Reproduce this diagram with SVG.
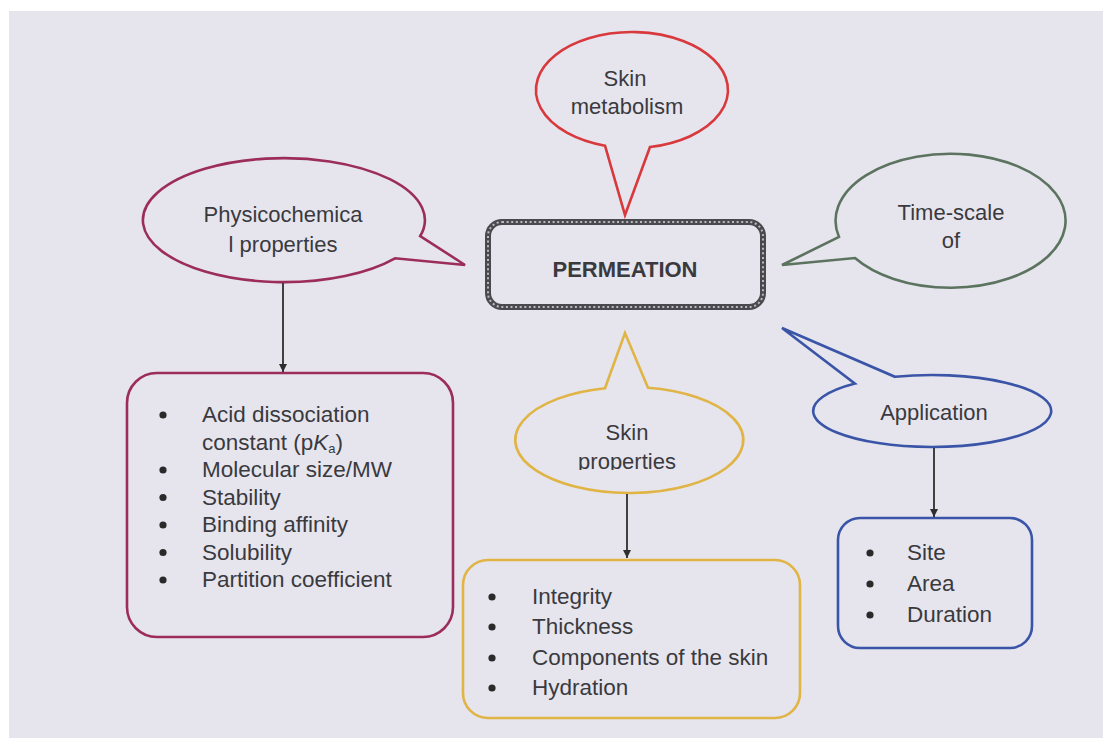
<svg xmlns="http://www.w3.org/2000/svg" width="1103" height="738" viewBox="0 0 1103 738">
<defs>
<marker id="ah" viewBox="0 0 10 10" refX="10" refY="5" markerWidth="8" markerHeight="8" markerUnits="userSpaceOnUse" orient="auto">
<path d="M0,0 L10,5 L0,10 Z" fill="#2e2e2e"/>
</marker>
<clipPath id="clipProp"><rect x="540" y="440" width="180" height="30"/></clipPath>
</defs>
<style>
text{font-family:"Liberation Sans",Arial,sans-serif;fill:#3a3a3e}
.bub{font-size:22px;text-anchor:middle}
.li{font-size:22.5px}
.bubble{fill:none;stroke-width:2.6;stroke-linejoin:miter}
.box{fill:none;stroke-width:2.6}
.dot{fill:#2a2a2a}
.conn{stroke:#2e2e2e;stroke-width:1.8;fill:none;marker-end:url(#ah)}
</style>
<rect x="0" y="0" width="1103" height="738" fill="#ffffff"/>
<rect x="9" y="11" width="1094" height="727" fill="#e6e5ee"/>

<g id="permeation">
<rect x="488" y="222" width="275" height="85" rx="14" fill="none" stroke="#4a4a4e" stroke-width="6"/>
<rect x="488" y="222" width="275" height="85" rx="14" fill="none" stroke="#b9b9c2" stroke-width="2" stroke-dasharray="2 2.6"/>
<text x="625" y="277" text-anchor="middle" font-size="22" font-weight="bold" fill="#333">PERMEATION</text>
</g>

<g id="skin-metabolism">
<path class="bubble" stroke="#d8393d" d="M650,147 A96,58 0 1 0 605,145.7 L625,215 Z"/>
<text class="bub" x="625" y="86">Skin</text>
<text class="bub" x="627" y="114">metabolism</text>
</g>

<g id="physicochemical">
<path class="bubble" stroke="#9c2d5a" d="M420.2,236 A141,62 0 1 0 395,258.3 L465,265 Z"/>
<text class="bub" x="283" y="222">Physicochemica</text>
<text class="bub" x="283" y="252">l properties</text>
</g>

<g id="time-scale">
<path class="bubble" stroke="#5b735f" d="M839,237 A115,67 0 1 1 855,258 L782,265 Z"/>
<text class="bub" x="951" y="220">Time-scale</text>
<text class="bub" x="951" y="248">of</text>
</g>

<g id="application">
<path class="bubble" stroke="#3a55a8" d="M895,376.8 A119,36 0 1 1 855,383.6 L782,328 Z"/>
<text class="bub" x="934" y="420">Application</text>
</g>

<g id="skin-properties">
<path class="bubble" stroke="#e0b445" d="M648,387.7 A114,53 0 1 1 605,388.2 L625,333 Z"/>
<text class="bub" x="627" y="440">Skin</text>
<text class="bub" x="627" y="469" clip-path="url(#clipProp)">properties</text>
</g>

<g id="physchem-list">
<rect class="box" x="127" y="373" width="326" height="264" rx="30" stroke="#9c2d5a"/>
<circle class="dot" cx="163" cy="415" r="3.6"/>
<text class="li" x="202" y="422">Acid dissociation</text>
<text class="li" x="202" y="449.5">constant (p<tspan font-style="italic">K</tspan><tspan font-size="13" dy="3">a</tspan><tspan dy="-3">)</tspan></text>
<circle class="dot" cx="163" cy="470" r="3.6"/>
<text class="li" x="202" y="477">Molecular size/MW</text>
<circle class="dot" cx="163" cy="497.5" r="3.6"/>
<text class="li" x="202" y="504.5">Stability</text>
<circle class="dot" cx="163" cy="525" r="3.6"/>
<text class="li" x="202" y="532">Binding affinity</text>
<circle class="dot" cx="163" cy="552.5" r="3.6"/>
<text class="li" x="202" y="559.5">Solubility</text>
<circle class="dot" cx="163" cy="580" r="3.6"/>
<text class="li" x="202" y="587">Partition coefficient</text>
</g>

<g id="skin-list">
<rect class="box" x="463" y="560" width="337" height="158" rx="25" stroke="#e0b445"/>
<circle class="dot" cx="492" cy="597" r="3.6"/>
<text class="li" x="532" y="604">Integrity</text>
<circle class="dot" cx="492" cy="627" r="3.6"/>
<text class="li" x="532" y="634">Thickness</text>
<circle class="dot" cx="492" cy="658" r="3.6"/>
<text class="li" x="532" y="665">Components of the skin</text>
<circle class="dot" cx="492" cy="688" r="3.6"/>
<text class="li" x="532" y="695">Hydration</text>
</g>

<g id="application-list">
<rect class="box" x="838" y="518" width="194" height="130" rx="22" stroke="#3a55a8"/>
<circle class="dot" cx="870" cy="553" r="3.6"/>
<text class="li" x="907" y="560">Site</text>
<circle class="dot" cx="870" cy="584" r="3.6"/>
<text class="li" x="907" y="591">Area</text>
<circle class="dot" cx="870" cy="615" r="3.6"/>
<text class="li" x="907" y="622">Duration</text>
</g>

<g id="connectors">
<line class="conn" x1="283" y1="283" x2="283" y2="372"/>
<line class="conn" x1="627" y1="494" x2="627" y2="558"/>
<line class="conn" x1="934" y1="448" x2="934" y2="517"/>
</g>
</svg>
